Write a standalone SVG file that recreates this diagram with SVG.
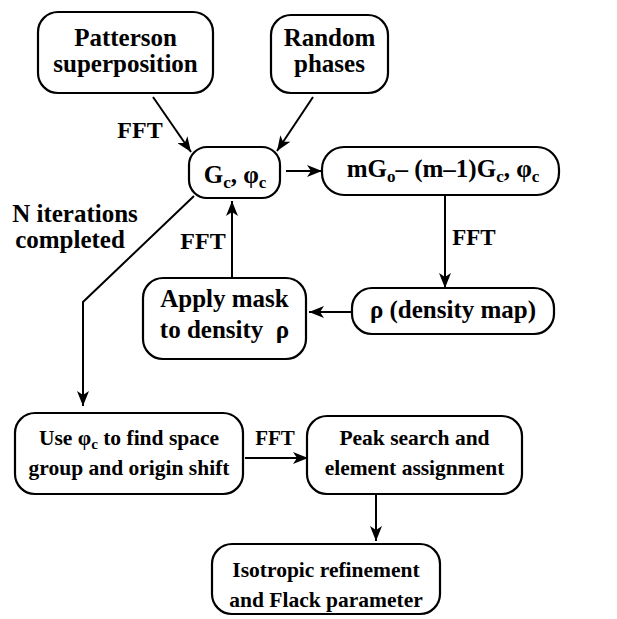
<svg xmlns="http://www.w3.org/2000/svg" width="617" height="619" viewBox="0 0 617 619" font-family="Liberation Serif, Times New Roman, serif" font-weight="bold" text-anchor="middle">
<defs>
<marker id="ah" markerUnits="userSpaceOnUse" markerWidth="16" markerHeight="12" viewBox="0 0 16 12" refX="15" refY="6" orient="auto">
<path d="M0,0 L15,6 L0,12 L4,6 z" fill="#000"/>
</marker>
</defs>
<rect width="617" height="619" fill="#fff"/>
<g id="patterson" font-size="25">
<rect fill="#fff" stroke="#000" stroke-width="2.2" x="38" y="12" width="175" height="81" rx="20"/>
<text x="125.5" y="46">Patterson</text>
<text x="125.5" y="72">superposition</text>
</g>
<g id="random" font-size="25">
<rect fill="#fff" stroke="#000" stroke-width="2.2" x="271" y="15" width="117" height="78" rx="20"/>
<text x="329.5" y="46">Random</text>
<text x="329.5" y="72">phases</text>
</g>
<g id="gc" font-size="25">
<rect fill="#fff" stroke="#000" stroke-width="2.2" x="189" y="147" width="91" height="51" rx="18"/>
<text x="235" y="183">G<tspan font-size="17" dy="5">c</tspan><tspan dy="-5">, φ</tspan><tspan font-size="17" dy="5">c</tspan></text>
</g>
<g id="mgo" font-size="25">
<rect fill="#fff" stroke="#000" stroke-width="2.2" x="322" y="147" width="237" height="48" rx="22"/>
<text x="443" y="177">mG<tspan font-size="17" dy="5">o</tspan><tspan dy="-5">– (m–1)G</tspan><tspan font-size="17" dy="5">c</tspan><tspan dy="-5">, φ</tspan><tspan font-size="17" dy="5">c</tspan></text>
</g>
<g id="rho" font-size="25">
<rect fill="#fff" stroke="#000" stroke-width="2.2" x="352" y="288" width="202" height="46" rx="20"/>
<text x="453" y="318">ρ (density map)</text>
</g>
<g id="mask" font-size="25">
<rect fill="#fff" stroke="#000" stroke-width="2.2" x="143" y="278" width="163" height="81" rx="20"/>
<text x="224.5" y="307">Apply mask</text>
<text x="224.5" y="338" xml:space="preserve">to density  ρ</text>
</g>
<g id="use" font-size="21.5">
<rect fill="#fff" stroke="#000" stroke-width="2.2" x="15" y="413" width="228" height="81" rx="20"/>
<text x="129" y="445">Use φ<tspan font-size="15" dy="4">c</tspan><tspan dy="-4"> to find space</tspan></text>
<text x="129" y="475">group and origin shift</text>
</g>
<g id="peak" font-size="21.5">
<rect fill="#fff" stroke="#000" stroke-width="2.2" x="307" y="416" width="215" height="78" rx="20"/>
<text x="414.5" y="445">Peak search and</text>
<text x="414.5" y="475">element assignment</text>
</g>
<g id="iso" font-size="21.5">
<rect fill="#fff" stroke="#000" stroke-width="2.2" x="212" y="544" width="228" height="70" rx="20"/>
<text x="326" y="577">Isotropic refinement</text>
<text x="326" y="607">and Flack parameter</text>
</g>
<g id="connectors" stroke="#000" stroke-width="2" fill="none" marker-end="url(#ah)">
<line x1="153" y1="97" x2="191" y2="152"/>
<line x1="313" y1="97" x2="277" y2="151"/>
<line x1="286" y1="171" x2="322" y2="171"/>
<line x1="445" y1="195" x2="445" y2="288"/>
<line x1="352" y1="312" x2="309" y2="312"/>
<line x1="232" y1="277" x2="232" y2="201"/>
<polyline points="194,196 83,302 83,406"/>
<line x1="245" y1="458" x2="308" y2="458"/>
<line x1="376" y1="494" x2="376" y2="541"/>
</g>
<g id="labels">
<text font-size="24" x="140" y="138">FFT</text>
<text font-size="23" x="474" y="245">FFT</text>
<text font-size="24" x="203" y="249">FFT</text>
<text font-size="21" x="275" y="445">FFT</text>
<text font-size="25" x="75" y="222">N iterations</text>
<text font-size="25" x="70" y="248">completed</text>
</g>
</svg>
